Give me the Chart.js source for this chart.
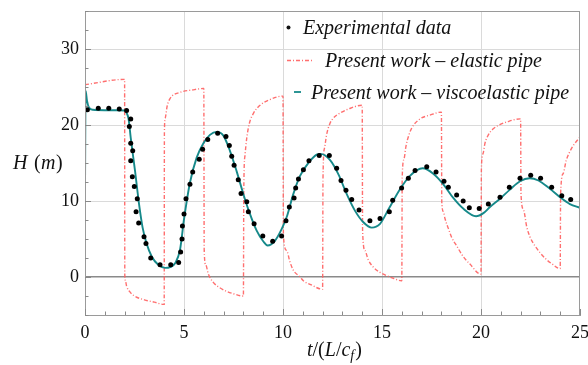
<!DOCTYPE html>
<html>
<head>
<meta charset="utf-8">
<script src="https://cdn.jsdelivr.net/npm/chart.js@4.4.1/dist/chart.umd.min.js"></script>
<style>
  html, body { margin: 0; padding: 0; background: #fff; }
  #wrap { width: 588px; height: 365px; }
</style>
</head>
<body>
<div id="wrap"><canvas id="myChart" width="588" height="365"></canvas></div>
<script>
// tick labels
var xTicks = [0, 5, 10, 15, 20, 25];
var yTicks = [0, 10, 20, 30];

// experimental points (t, H)
var expT = [0.12, 0.67, 1.2, 1.73, 2.1, 2.31, 2.24, 2.31, 2.41, 2.31, 2.39, 2.49, 2.64, 2.58, 2.71, 2.98, 3.08, 3.32, 3.79, 4.33,
  4.73, 4.83, 4.9, 4.92, 5.0, 5.1, 5.3, 5.44, 5.77, 5.94, 6.2, 6.7, 7.12, 7.29, 7.41, 7.53, 7.74, 7.88, 8.17, 8.25,
  8.54, 8.98, 9.48, 9.93, 10.15, 10.32, 10.56, 10.64, 10.78, 11.03, 11.31, 11.83, 12.34, 12.71, 12.93, 13.18, 13.47, 13.84, 14.39, 14.9,
  15.37, 15.54, 15.99, 16.33, 16.67, 17.26, 17.73, 18.13, 18.35, 18.77, 19.1, 19.41, 19.91, 20.37, 20.96, 21.43, 21.97, 22.51, 23.01, 23.57,
  24.08, 24.53];
var expH = [22.0, 22.2, 22.2, 22.1, 21.9, 20.8, 19.8, 17.6, 16.6, 15.3, 13.2, 11.9, 10.3, 8.6, 7.1, 5.3, 4.4, 2.5, 1.6, 1.6,
  1.9, 3.3, 5.0, 6.7, 8.3, 10.3, 12.2, 13.8, 15.5, 16.8, 18.1, 18.9, 18.5, 17.3, 15.9, 14.7, 12.8, 11.0, 9.9, 8.6,
  7.0, 5.4, 4.7, 5.4, 7.4, 9.2, 10.4, 11.7, 12.9, 14.1, 15.3, 16.0, 16.0, 14.3, 12.7, 11.4, 10.2, 8.8, 7.4, 7.7,
  8.6, 10.1, 11.7, 13.0, 14.0, 14.5, 13.8, 12.6, 11.8, 10.8, 10.0, 9.1, 9.0, 9.6, 10.5, 11.8, 13.0, 13.4, 13.0, 11.8,
  10.7, 10.2];

// present work - elastic pipe
var elT = [0, 1.98,
  2.0, 2.01, 2.05, 2.1, 2.25, 2.5, 3.0, 3.5, 3.98,
  4.0, 4.01, 4.05, 4.15, 4.3, 4.8, 5.4, 5.98,
  6.0, 6.02, 6.1, 6.23, 6.48, 6.8, 7.16, 7.5, 7.98,
  8.0, 8.02, 8.08, 8.17, 8.3, 8.5, 8.84, 9.3, 9.98,
  10.0, 10.02, 10.18, 10.35, 10.52, 10.86, 11.03, 11.4, 11.98,
  12.0, 12.02, 12.1, 12.2, 12.37, 12.54, 12.9, 13.3, 13.98,
  14.0, 14.02, 14.14, 14.3, 14.56, 14.9, 15.3, 15.6, 15.98,
  16.0, 16.02, 16.11, 16.21, 16.35, 16.5, 16.92, 17.42, 17.98,
  18.0, 18.02, 18.1, 18.18, 18.35, 18.52, 18.77, 19.1, 19.44, 19.98,
  20.0, 20.02, 20.1, 20.2, 20.35, 20.62, 21.0, 21.3, 21.98,
  22.0, 22.02, 22.14, 22.31, 22.47, 22.7, 22.98, 23.3, 23.6, 23.98,
  24.0, 24.02, 24.15, 24.3, 24.45, 24.66, 25];
var elH = [25.3, 26.0,
  26.0, 0.3, -0.6, -1.2, -1.9, -2.5, -3.0, -3.3, -3.6,
  -3.6, 19.0, 20.9, 22.5, 23.5, 24.3, 24.6, 24.8,
  24.8, 3.5, 1.6, 0.4, -0.7, -1.4, -1.9, -2.2, -2.5,
  -2.5, 11.5, 16.0, 18.3, 20.2, 21.5, 22.6, 23.3, 23.8,
  23.8, 5.5, 3.5, 2.0, 0.9, 0.0, -0.5, -1.0, -1.6,
  -1.6, 13.0, 17.0, 18.7, 20.2, 20.9, 21.6, 22.1, 22.6,
  22.6, 6.0, 3.5, 2.3, 1.3, 0.6, 0.1, -0.2, -0.5,
  -0.5, 13.0, 15.5, 17.2, 18.6, 19.6, 20.8, 21.3, 21.7,
  21.7, 9.8, 8.6, 7.7, 6.4, 5.2, 4.1, 2.7, 1.7, 0.4,
  0.4, 14.3, 16.2, 17.6, 18.6, 19.5, 20.1, 20.4, 20.8,
  20.8, 10.9, 8.9, 6.6, 5.3, 4.2, 3.2, 2.3, 1.7, 1.1,
  1.1, 10.9, 13.6, 15.3, 16.3, 17.3, 18.4];

// present work - viscoelastic pipe
var veT = [0, 0.03, 0.1, 0.2, 0.4, 1.0, 1.6, 2.0, 2.1, 2.2, 2.31, 2.53, 2.73, 2.91, 3.11, 3.37, 3.7, 4.05, 4.3, 4.55,
  4.8, 5.0, 5.3, 5.64, 5.98, 6.31, 6.65, 6.99, 7.32, 7.66, 8.0, 8.33, 8.67, 9.0, 9.22, 9.6, 9.93, 10.2, 10.52, 10.86,
  11.28, 11.7, 11.9, 12.37, 12.8, 13.22, 13.64, 14.06, 14.48, 14.9, 15.35, 15.9, 16.41, 17.05, 17.59, 18.1, 18.6, 19.1, 19.75, 20.12,
  20.45, 20.96, 21.46, 21.97, 22.45, 22.9, 23.48, 23.99, 24.49, 25];
var veH = [11.2, 24.5, 23.2, 22.3, 22.0, 21.95, 21.95, 21.9, 21.6, 20.8, 18.3, 13.9, 9.6, 6.5, 4.4, 2.7, 1.6, 1.2, 1.3, 1.8,
  3.6, 7.6, 12.4, 15.7, 17.6, 18.7, 19.1, 18.6, 16.6, 13.9, 10.9, 8.3, 6.1, 4.7, 4.15, 4.8, 6.3, 8.0, 10.9, 13.3,
  15.0, 16.1, 16.2, 15.4, 13.5, 10.9, 8.7, 7.2, 6.5, 7.0, 9.0, 11.5, 13.3, 14.3, 13.6, 12.2, 10.4, 9.0, 8.0, 8.4,
  9.2, 10.3, 11.5, 12.6, 13.0, 12.7, 11.6, 10.5, 9.6, 9.1];

function pts(xs, ys) {
  return xs.map(function(x, i) { return { x: x, y: ys[i] }; });
}

var serif = '"Liberation Serif", "DejaVu Serif", serif';
var elColor = 'rgba(255, 95, 95, 0.9)';
var veColor = '#16898a';

// frame, inward ticks, axis titles and legend
var decorPlugin = {
  id: 'decor',
  afterDraw: function(chart) {
    var c = chart.ctx, a = chart.chartArea;
    var xs = chart.scales.x, ys = chart.scales.y;
    c.save();
    c.strokeStyle = '#9a9a9a';
    c.lineWidth = 1;
    c.strokeRect(a.left + 0.5, a.top + 0.5, a.right - a.left - 1, a.bottom - a.top);
    // minor / major ticks pointing inward
    c.strokeStyle = '#8a8a8a';
    c.beginPath();
    for (var t = 0; t <= 25; t++) {
      var px = Math.round(xs.getPixelForValue(t)) + 0.5;
      var len = (t % 5 === 0) ? 6 : 3.5;
      c.moveTo(px, a.bottom); c.lineTo(px, a.bottom - len);
    }
    for (var h = -5; h <= 35; h += 2.5) {
      var py = Math.round(ys.getPixelForValue(h)) + 0.5;
      var l2 = (h % 10 === 0) ? 6 : 3.5;
      c.moveTo(a.left, py); c.lineTo(a.left + l2, py);
    }
    c.stroke();

    // y title
    c.fillStyle = '#111';
    c.font = 'italic 20px ' + serif;
    c.textBaseline = 'alphabetic';
    c.textAlign = 'left';
    c.fillText('H', 13, 169);
    c.font = '20px ' + serif;
    c.fillText('(', 34, 169);
    c.font = 'italic 20px ' + serif;
    c.fillText('m', 41, 169);
    c.font = '20px ' + serif;
    c.fillText(')', 56, 169);

    // x title t/(L/c_f)
    var bx = 307, by = 356;
    c.font = 'italic 20px ' + serif;
    c.fillText('t', bx, by); bx += c.measureText('t').width;
    c.font = '20px ' + serif;
    c.fillText('/(', bx, by); bx += c.measureText('/(').width;
    c.font = 'italic 20px ' + serif;
    c.fillText('L', bx, by); bx += c.measureText('L').width;
    c.font = '20px ' + serif;
    c.fillText('/', bx, by); bx += c.measureText('/').width;
    c.font = 'italic 20px ' + serif;
    c.fillText('c', bx, by); bx += c.measureText('c').width;
    c.font = 'italic 14px ' + serif;
    c.fillText('f', bx, by + 4); bx += c.measureText('f').width + 1;
    c.font = '20px ' + serif;
    c.fillText(')', bx, by);

    // legend
    var ds = chart.data.datasets;
    c.font = 'italic 20px ' + serif;
    c.fillStyle = '#111';
    c.beginPath(); c.arc(288.5, 27.5, 2, 0, Math.PI * 2); c.fill();
    c.fillText(ds[0].label, 303, 34);
    c.strokeStyle = elColor; c.lineWidth = 1.4; c.setLineDash([4, 2, 1, 2]);
    c.beginPath(); c.moveTo(287, 60.5); c.lineTo(314, 60.5); c.stroke();
    c.setLineDash([]);
    c.fillText(ds[1].label, 325, 66.5);
    c.strokeStyle = veColor; c.lineWidth = 1.8;
    c.beginPath(); c.moveTo(294, 92); c.lineTo(301, 92); c.stroke();
    c.fillText(ds[2].label, 311, 99);
    c.restore();
  }
};

var ctx = document.getElementById('myChart');
var myChart = new Chart(ctx, {
  type: 'scatter',
  data: {
    datasets: [{
      label: 'Experimental data',
      data: pts(expT, expH),
      pointRadius: 2.5,
      pointBackgroundColor: '#000',
      pointBorderWidth: 0,
      showLine: false,
      order: 0
    }, {
      label: 'Present work \u2013 elastic pipe',
      data: pts(elT, elH),
      showLine: true,
      pointRadius: 0,
      borderColor: elColor,
      borderWidth: 1.4,
      borderDash: [4, 2, 1, 2],
      cubicInterpolationMode: 'monotone',
      order: 2
    }, {
      label: 'Present work \u2013 viscoelastic pipe',
      data: pts(veT, veH),
      showLine: true,
      pointRadius: 0,
      borderColor: veColor,
      borderWidth: 1.9,
      cubicInterpolationMode: 'monotone',
      order: 1
    }]
  },
  plugins: [decorPlugin],
  options: {
    responsive: false,
    animation: false,
    devicePixelRatio: 1,
    layout: { padding: { top: 11, right: 8, left: 0, bottom: 0 } },
    plugins: {
      legend: { display: false },
      tooltip: { enabled: false }
    },
    scales: {
      x: {
        type: 'linear',
        min: 0,
        max: 25,
        afterBuildTicks: function(scale) {
          scale.ticks = xTicks.map(function(v) { return { value: v }; });
        },
        afterFit: function(scale) {
          scale.height = 50;
          scale.paddingLeft = 0;
          scale.paddingRight = 0;
        },
        ticks: {
          color: '#111',
          padding: 7,
          maxRotation: 0,
          font: { family: serif, size: 18 }
        },
        grid: {
          drawTicks: false,
          color: function(c) {
            var v = c.tick && c.tick.value;
            return (v > 0 && v < 25) ? '#dadada' : 'rgba(0,0,0,0)';
          }
        },
        border: { color: '#9a9a9a', width: 1 }
      },
      y: {
        type: 'linear',
        min: -5,
        max: 35,
        afterBuildTicks: function(scale) {
          scale.ticks = yTicks.map(function(v) { return { value: v }; });
        },
        afterFit: function(scale) {
          scale.width = 85;
          scale.paddingTop = 0;
          scale.paddingBottom = 0;
        },
        ticks: {
          color: '#111',
          padding: 6,
          font: { family: serif, size: 18 }
        },
        grid: {
          drawTicks: false,
          color: function(c) {
            return (c.tick && c.tick.value === 0) ? '#8a8a8a' : '#dadada';
          },
          lineWidth: function(c) {
            return (c.tick && c.tick.value === 0) ? 1.4 : 1;
          }
        },
        border: { color: '#9a9a9a', width: 1 }
      }
    }
  }
});
</script>
</body>
</html>
